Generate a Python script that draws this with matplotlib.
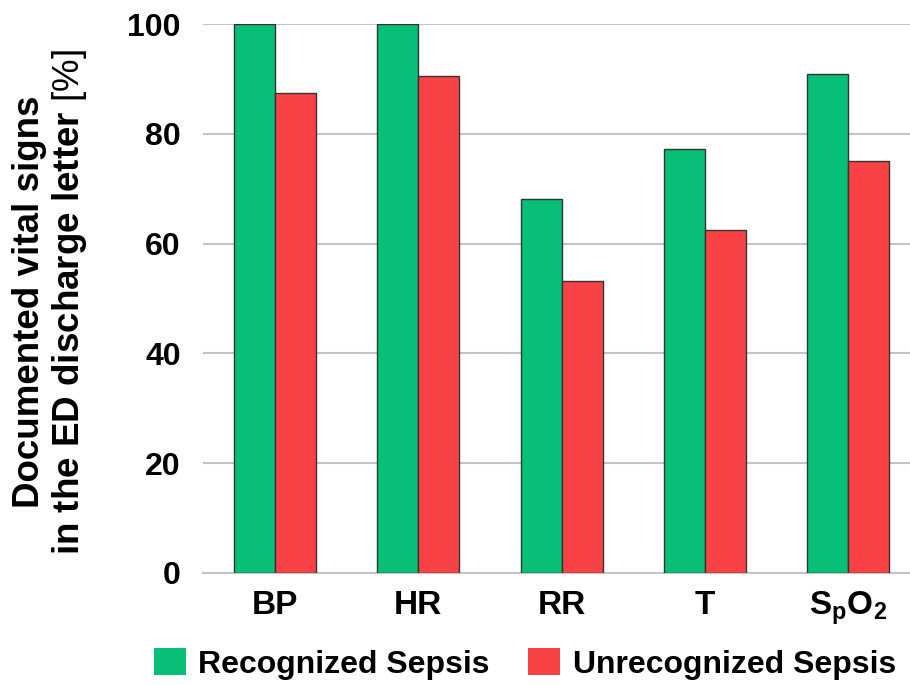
import matplotlib
matplotlib.use("Agg")
import matplotlib.pyplot as plt
import numpy as np
from matplotlib.patches import Patch

plt.rcParams['font.family'] = ['Liberation Sans', 'DejaVu Sans']
plt.rcParams['mathtext.fontset'] = 'custom'
plt.rcParams['mathtext.rm'] = 'Liberation Sans'
plt.rcParams['mathtext.bf'] = 'Liberation Sans:bold'
plt.rcParams['mathtext.it'] = 'Liberation Sans:italic'

categories = ["BP", "HR", "RR", "T", r"S$_\mathbf{p}$O$_\mathbf{2}$"]
recognized = [100, 100, 68.1, 77.2, 90.9]
unrecognized = [87.5, 90.6, 53.2, 62.5, 75.0]
series_names = ["Recognized Sepsis", "Unrecognized Sepsis"]
yticks = [0, 20, 40, 60, 80, 100]

green = '#08BF77'
red = '#F84245'
edge = '#333333'

fig = plt.figure(figsize=(9.10, 6.84), dpi=100)
ax = fig.add_axes([203/910, 1-573/684, 707/910, (573-24)/684])

x = np.arange(len(categories))
w = 0.286
ax.bar(x - w/2, recognized, w, color=green, edgecolor=edge, linewidth=1.0, zorder=3)
ax.bar(x + w/2, unrecognized, w, color=red, edgecolor=edge, linewidth=1.0, zorder=3)

ax.set_xlim(-0.503, 4.432)
ax.set_ylim(0, 100)
ax.set_yticks(yticks)
ax.set_yticklabels([str(v) for v in yticks], fontsize=23, fontweight='bold')
ax.set_xticks(x)
ax.set_xticklabels(categories, fontsize=24, fontweight='bold')
ax.tick_params(axis='y', length=0, pad=16)
ax.tick_params(axis='x', length=0, pad=12)
ax.grid(axis='y', color='#C4C4C4', linewidth=1.5, zorder=0)
ax.set_axisbelow(True)
for s in ['top', 'right', 'left']:
    ax.spines[s].set_visible(False)
ax.spines['bottom'].set_color('#C4C4C4')
ax.spines['bottom'].set_linewidth(1.5)
ax.spines['bottom'].set_zorder(2)

yc = 1 - 302/684
fig.text(30/910, yc, "Documented vital signs", rotation=90, ha='center', va='center',
         fontsize=26.5, fontweight='bold')
fig.text(70/910, yc, r"in the ED discharge letter $\mathrm{[\%]}$", rotation=90,
         ha='center', va='center', fontsize=26.5, fontweight='bold')

handles = [Patch(facecolor=green, edgecolor='none'), Patch(facecolor=red, edgecolor='none')]
leg = fig.legend(handles, series_names, loc='center', bbox_to_anchor=(525/910, 1-664/684),
                 ncol=2, frameon=False, prop={'size': 23, 'weight': 'bold'},
                 handlelength=1.0, handleheight=0.9, handletextpad=0.4, columnspacing=1.2)

fig.savefig("out.png", dpi=100)
